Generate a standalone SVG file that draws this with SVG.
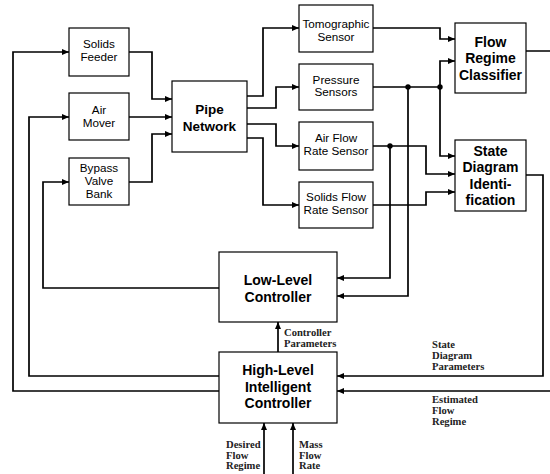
<svg xmlns="http://www.w3.org/2000/svg" width="550" height="474" viewBox="0 0 550 474">
<style>
.box{fill:#fff;stroke:#000;stroke-width:1.2}
.t{font-family:"Liberation Sans",Arial,sans-serif;font-size:11.7px;text-anchor:middle;fill:#000}
.b{font-family:"Liberation Sans",Arial,sans-serif;font-size:14px;font-weight:bold;text-anchor:middle;fill:#000}
.s{font-family:"Liberation Serif","Times New Roman",serif;font-size:10.6px;font-weight:bold;fill:#222}
.c{fill:none;stroke:#000;stroke-width:1.7;marker-end:url(#ah)}
.n{fill:none;stroke:#000;stroke-width:1.7}
</style>
<defs>
<marker id="ah" markerUnits="userSpaceOnUse" markerWidth="7" markerHeight="6" refX="7" refY="3" orient="auto">
<path d="M0,0 L7,3 L0,6 z" fill="#000"/>
</marker>
</defs>
<rect width="550" height="474" fill="#fff"/>
<g id="connectors">
<path class="c" d="M129,52 H152 V99 H172"/>
<path class="c" d="M129,117 H172"/>
<path class="c" d="M129,182 H152 V134 H172"/>
<path class="c" d="M247,96 H263 V28 H299"/>
<path class="c" d="M247,108 H276 V87 H299"/>
<path class="c" d="M247,124 H276 V146 H299"/>
<path class="c" d="M247,138 H263 V205 H299"/>
<path class="c" d="M373,28 H440 V39 H455"/>
<path class="c" d="M373,87 H440 V61 H455"/>
<path class="c" d="M440,87 V156 H455"/>
<path class="c" d="M373,146 H426 V174 H455"/>
<path class="c" d="M373,205 H426 V192 H455"/>
<path class="c" d="M390,146 V278 H337"/>
<path class="c" d="M408,87 V296 H337"/>
<path class="c" d="M526,51 H553 V391 H337"/>
<path class="c" d="M526,175 H543 V376 H337"/>
<path class="c" d="M219,288 H43 V182 H69"/>
<path class="c" d="M219,376 H29 V117 H69"/>
<path class="c" d="M219,391 H13 V52 H69"/>
<path class="c" d="M278,352 V322"/>
<path class="c" d="M264,476 V423"/>
<path class="c" d="M293,476 V423"/>
<circle cx="440" cy="87" r="2.7"/>
<circle cx="408" cy="87" r="2.7"/>
<circle cx="390" cy="146" r="2.7"/>
</g>
<g id="solids-feeder"><rect class="box" x="69" y="28" width="60" height="48"/><text class="t" x="99" y="48">Solids</text><text class="t" x="99" y="61">Feeder</text></g>
<g id="air-mover"><rect class="box" x="69" y="93" width="60" height="47"/><text class="t" x="99" y="114">Air</text><text class="t" x="99" y="127">Mover</text></g>
<g id="bypass-valve-bank"><rect class="box" x="69" y="158" width="60" height="47"/><text class="t" x="99" y="172">Bypass</text><text class="t" x="99" y="185">Valve</text><text class="t" x="99" y="198">Bank</text></g>
<g id="pipe-network"><rect class="box" x="172" y="81" width="75" height="71"/><text class="b" x="209.5" y="114" style="font-size:13.5px">Pipe</text><text class="b" x="209.5" y="131" style="font-size:13.5px">Network</text></g>
<g id="tomographic-sensor"><rect class="box" x="299" y="5" width="74" height="47"/><text class="t" x="336" y="28">Tomographic</text><text class="t" x="336" y="41">Sensor</text></g>
<g id="pressure-sensors"><rect class="box" x="299" y="64" width="74" height="46"/><text class="t" x="336" y="83.5">Pressure</text><text class="t" x="336" y="96">Sensors</text></g>
<g id="air-flow-rate-sensor"><rect class="box" x="299" y="122" width="74" height="48"/><text class="t" x="336" y="142">Air Flow</text><text class="t" x="336" y="155">Rate Sensor</text></g>
<g id="solids-flow-rate-sensor"><rect class="box" x="299" y="182" width="74" height="46"/><text class="t" x="336" y="201">Solids Flow</text><text class="t" x="336" y="214">Rate Sensor</text></g>
<g id="flow-regime-classifier"><rect class="box" x="455" y="23" width="71" height="70"/><text class="b" x="490.5" y="46.5">Flow</text><text class="b" x="490.5" y="63">Regime</text><text class="b" x="490.5" y="80">Classifier</text></g>
<g id="state-diagram-identification"><rect class="box" x="455" y="140" width="71" height="71"/><text class="b" x="490.5" y="156">State</text><text class="b" x="490.5" y="172">Diagram</text><text class="b" x="490.5" y="188.5">Identi-</text><text class="b" x="490.5" y="205">fication</text></g>
<g id="low-level-controller"><rect class="box" x="219" y="252" width="118" height="70"/><text class="b" x="278" y="285">Low-Level</text><text class="b" x="278" y="301.5">Controller</text></g>
<g id="high-level-controller"><rect class="box" x="219" y="352" width="118" height="71"/><text class="b" x="278" y="375">High-Level</text><text class="b" x="278" y="391.5">Intelligent</text><text class="b" x="278" y="408">Controller</text></g>
<g id="labels">
<text class="s" x="284" y="336">Controller</text><text class="s" x="284" y="347">Parameters</text>
<text class="s" x="432" y="348">State</text><text class="s" x="432" y="359">Diagram</text><text class="s" x="432" y="370">Parameters</text>
<text class="s" x="432" y="403">Estimated</text><text class="s" x="432" y="414">Flow</text><text class="s" x="432" y="425">Regime</text>
<text class="s" x="226" y="448">Desired</text><text class="s" x="226" y="458.5">Flow</text><text class="s" x="226" y="469">Regime</text>
<text class="s" x="299" y="448">Mass</text><text class="s" x="299" y="458.5">Flow</text><text class="s" x="299" y="469">Rate</text>
</g>
</svg>
